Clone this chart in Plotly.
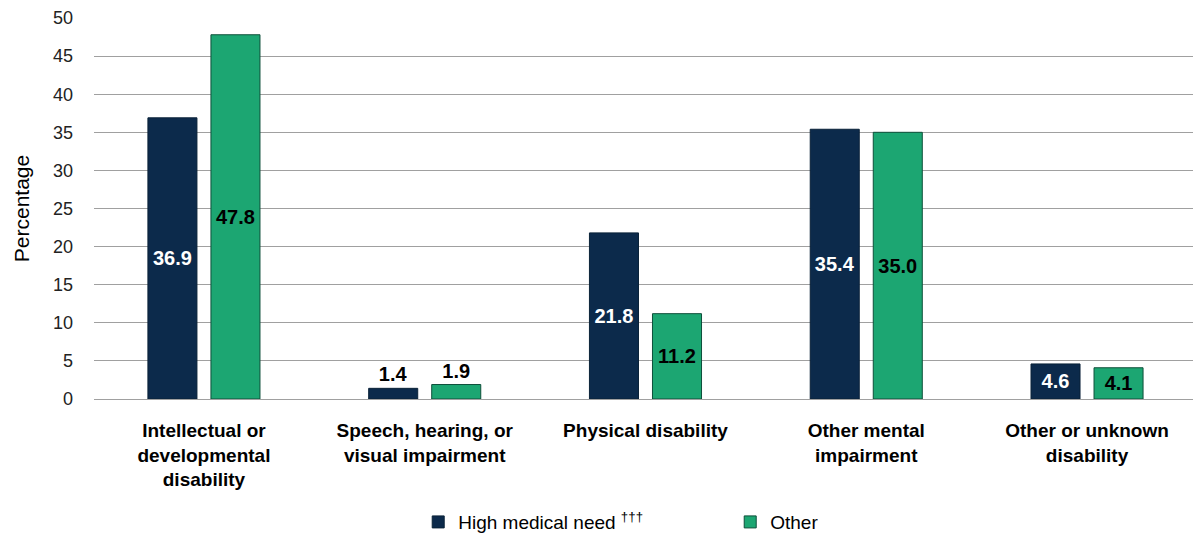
import plotly.graph_objects as go

categories = ["Intellectual or<br>developmental<br>disability",
              "Speech, hearing, or<br>visual impairment",
              "Physical disability",
              "Other mental<br>impairment",
              "Other or unknown<br>disability"]
high_medical = [36.9, 1.4, 21.8, 35.4, 4.6]
other = [47.8, 1.9, 11.2, 35.0, 4.1]
y_ticks = [0, 5, 10, 15, 20, 25, 30, 35, 40, 45, 50]

navy = "#0C2A4B"
green = "#1CA672"
FONT = "Liberation Sans"

def positions(vals):
    return ["outside" if v < 3 else "inside" for v in vals]

fig = go.Figure()
fig.add_trace(go.Bar(
    x=categories, y=high_medical, name="High medical need <sup>†††</sup>",
    marker=dict(color=navy, line=dict(color="#0A2238", width=1)),
    text=[f"{v:.1f}" for v in high_medical], textposition=positions(high_medical),
    insidetextanchor="middle",
    textfont=dict(family=FONT, size=20, weight="bold",
                  color=["#000000" if v < 3 else "#FFFFFF" for v in high_medical]),
    cliponaxis=False,
))
fig.add_trace(go.Bar(
    x=categories, y=other, name="Other",
    marker=dict(color=green, line=dict(color="#0E4F3A", width=1)),
    text=[f"{v:.1f}" for v in other], textposition=positions(other),
    insidetextanchor="middle",
    textfont=dict(family=FONT, size=20, weight="bold", color="#000000"),
    cliponaxis=False,
))

fig.update_layout(
    width=1193, height=537,
    margin=dict(l=94, r=0, t=18, b=138, autoexpand=False),
    paper_bgcolor="white", plot_bgcolor="white",
    barmode="group", bargap=0.429, bargroupgap=0.222,
    uniformtext=dict(minsize=8, mode=False),
    font=dict(family=FONT, color="#000000"),
    showlegend=True,
    legend=dict(orientation="h", x=0.295, xanchor="left", y=-0.323, yanchor="middle",
                font=dict(size=19, family=FONT), traceorder="normal",
                itemwidth=30, entrywidth=267),
    xaxis=dict(showline=False, ticks="", automargin=False, range=[-0.498, 4.48],
               tickfont=dict(size=19, family=FONT, weight="bold"),
               tickangle=0, ticklabelstandoff=18),
    yaxis=dict(range=[0, 50], tickvals=y_ticks, showgrid=True, gridcolor="#A0A0A0",
               gridwidth=1, zeroline=True, zerolinecolor="#A0A0A0", zerolinewidth=1,
               automargin=False,
               tickfont=dict(size=18, family=FONT, color="#222222"),
               ticks="", ticklabelstandoff=20,
               title=dict(text="Percentage", font=dict(size=21, family=FONT),
                          standoff=17)),
)

fig.write_html("out.html", config={"displayModeBar": False},
               post_script="document.body.style.margin='0';")
